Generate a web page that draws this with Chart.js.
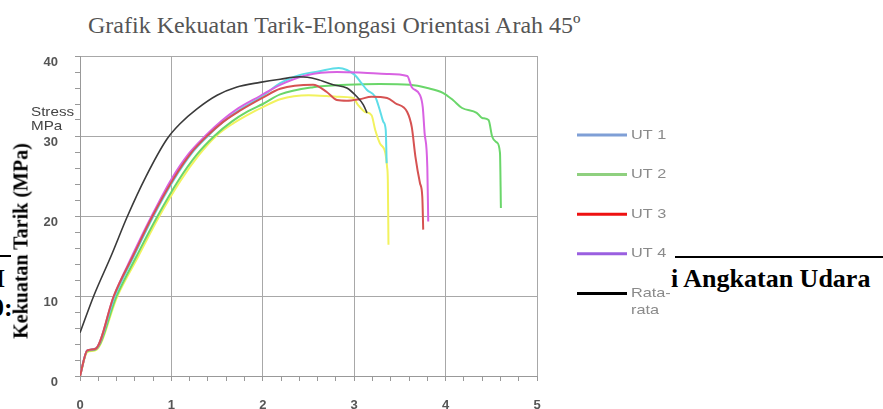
<!DOCTYPE html>
<html>
<head>
<meta charset="utf-8">
<script src="https://cdn.jsdelivr.net/npm/chart.js@4.4.1/dist/chart.umd.min.js"></script>
<style>
body { margin: 0; background: #fff; }
#wrap { position: relative; width: 883px; height: 409px; overflow: hidden; background: #fff; }
#c { position: absolute; left: 0; top: 0; }
.t { position: absolute; white-space: nowrap; }
</style>
</head>
<body>
<div id="wrap">
  <div class="t" style="left:0;top:255px;width:11px;height:2px;background:#000"></div>
  <div class="t" style="left:675px;top:256px;width:208px;height:2px;background:#000"></div>
  <div class="t" style="left:-5px;top:264px;font:bold 26px 'Liberation Serif';color:#000">I</div>
  <div class="t" style="left:-9px;top:293px;font:bold 26px 'Liberation Serif';color:#000">0:</div>
  <div class="t" style="left:671px;top:264px;font:bold 26px 'Liberation Serif';color:#000">i Angkatan Udara</div>
  <div class="t" style="left:88px;top:12px;font:24px 'Liberation Serif';color:#555">Grafik Kekuatan Tarik-Elongasi Orientasi Arah 45º</div>
  <canvas id="c" width="883" height="409"></canvas>
  <div class="t" style="left:21px;top:241px;transform:translate(-50%,-50%) rotate(-90deg);font:bold 20px 'Liberation Serif';color:#000">Kekuatan Tarik (MPa)</div>
</div>
<script>
// elongasi (%) and stress (MPa)
const xUT1 = [0, 0.08, 0.17, 0.38, 0.59, 0.8, 1.03, 1.22, 1.40, 1.58, 1.75, 2.0, 2.19, 2.4, 2.62, 2.83, 2.92, 3.01, 3.08, 3.14, 3.23, 3.28, 3.32, 3.345, 3.355];
const yUT1 = [0, 3.2, 3.4, 10, 15, 19.9, 24.6, 27.8, 30, 31.9, 33.3, 35, 36.6, 37.6, 38.1, 38.5, 38.25, 37.6, 36.6, 35.75, 34.9, 33.25, 31.75, 30.75, 26.6];

const xUT2 = [0, 0.08, 0.17, 0.4, 0.62, 0.84, 1.08, 1.28, 1.47, 1.66, 1.84, 2.0, 2.19, 2.55, 2.92, 3.28, 3.61, 3.8, 3.97, 4.08, 4.18, 4.34, 4.4, 4.47, 4.51, 4.56, 4.595, 4.605];
const yUT2 = [0, 3.1, 3.3, 10, 15, 19.8, 24.5, 27.7, 30, 31.8, 33.1, 34, 35.2, 36.1, 36.4, 36.5, 36.4, 36, 35.4, 34.5, 33.5, 32.9, 32.25, 32, 29.9, 29.2, 27.9, 21];

const xUT3 = [0, 0.08, 0.17, 0.37, 0.58, 0.79, 1.02, 1.21, 1.39, 1.57, 1.74, 2.0, 2.19, 2.55, 2.7, 2.81, 2.92, 3.06, 3.19, 3.36, 3.45, 3.58, 3.63, 3.67, 3.72, 3.745, 3.755];
const yUT3 = [0, 3.2, 3.4, 10, 15, 19.9, 24.6, 27.8, 30, 31.8, 33.1, 34.8, 35.9, 36.4, 35.5, 34.5, 34.4, 34.6, 34.9, 34.75, 34.1, 33, 31.1, 27.4, 24.1, 22.4, 18.3];

const xUT4 = [0, 0.08, 0.17, 0.37, 0.57, 0.78, 1.0, 1.19, 1.37, 1.55, 1.71, 1.97, 2.19, 2.48, 2.81, 3.1, 3.36, 3.58, 3.63, 3.72, 3.75, 3.77, 3.8, 3.81];
const yUT4 = [0, 3.2, 3.4, 10, 15, 19.9, 24.6, 27.8, 30, 31.9, 33.3, 35, 36.4, 37.6, 38, 37.9, 37.75, 37.5, 36.1, 35.1, 33.6, 30.4, 26.1, 19.3];

const xUT5 = [0, 0.08, 0.17, 0.41, 0.64, 0.86, 1.1, 1.3, 1.49, 1.68, 1.86, 2.0, 2.19, 2.5, 2.7, 2.81, 2.99, 3.04, 3.12, 3.19, 3.23, 3.28, 3.34, 3.36, 3.368, 3.375];
const yUT5 = [0, 3.0, 3.2, 10, 15, 19.8, 24.4, 27.6, 30, 31.6, 32.8, 33.6, 34.6, 35.1, 35, 34.9, 34.75, 33.9, 33, 32.6, 30.75, 29.1, 27.9, 26.1, 24.5, 16.4];

const xRata = [0, 0.15, 0.34, 0.52, 0.72, 0.95, 1.1, 1.28, 1.5, 1.71, 1.97, 2.19, 2.4, 2.59, 2.77, 2.92, 3.03, 3.1, 3.14];
const yRata = [5.4, 10, 15, 20, 24.9, 29.6, 31.6, 33.4, 35.1, 36.1, 36.7, 37.1, 37.4, 37.1, 36.4, 36, 34.9, 33.9, 32.9];

const legendLabels = ['UT 1', 'UT 2', 'UT 3', 'UT 4', 'Rata-\nrata'];
const legendColors = ['#7f9fd6', '#8fd07f', '#ee1111', '#9a5fe0', '#000000'];

function pts(xs, ys) {
    return xs.map((x, i) => ({ x: x, y: ys[i] }));
}

function isInt(v) {
    return Math.abs(v - Math.round(v)) < 1e-6;
}

function isTen(v) {
    return Math.abs(v / 10 - Math.round(v / 10)) < 1e-6;
}

Chart.defaults.font.family = "'Liberation Sans', Arial, sans-serif";

// legend and the "Stress MPa" note sit beside the plot, drawn a bit wide like the source image
const sideLegend = {
    id: 'sideLegend',
    afterDraw(chart) {
        const ctx = chart.ctx;
        ctx.save();
        ctx.textBaseline = 'middle';
        for (let i = 0; i < legendLabels.length; i++) {
            let y = 135 + i * 39.6;
            ctx.strokeStyle = legendColors[i];
            ctx.lineWidth = 3;
            ctx.beginPath();
            ctx.moveTo(577, y);
            ctx.lineTo(627, y);
            ctx.stroke();
            ctx.fillStyle = '#8a8a8a';
            ctx.font = "13px 'Liberation Sans'";
            let lines = legendLabels[i].split('\n');
            for (let j = 0; j < lines.length; j++) {
                ctx.save();
                ctx.translate(631, y + j * 17.5);
                ctx.scale(1.25, 1);
                ctx.fillText(lines[j], 0, 0);
                ctx.restore();
            }
        }
        ctx.fillStyle = '#444';
        ctx.font = "13px 'Liberation Sans'";
        ctx.save();
        ctx.translate(31, 112);
        ctx.scale(1.17, 1);
        ctx.fillText('Stress', 0, 0);
        ctx.fillText('MPa', 0, 14);
        ctx.restore();
        ctx.restore();
    }
};

new Chart(document.getElementById('c'), {
    type: 'line',
    data: {
        datasets: [
            { label: 'Rata-rata', data: pts(xRata, yRata), borderColor: '#3a3a3a', borderWidth: 1.6 },
            { label: 'UT 3', data: pts(xUT3, yUT3), borderColor: '#d65252' },
            { label: 'UT 4', data: pts(xUT4, yUT4), borderColor: '#d862e2' },
            { label: 'UT 1', data: pts(xUT1, yUT1), borderColor: '#5edde8' },
            { label: 'UT 2', data: pts(xUT2, yUT2), borderColor: '#6ad66a' },
            { label: 'UT 5', data: pts(xUT5, yUT5), borderColor: '#f2f25e' }
        ]
    },
    options: {
        responsive: false,
        animation: false,
        layout: { padding: { top: 56, right: 346, bottom: 0, left: 0 } },
        elements: {
            point: { radius: 0 },
            line: { cubicInterpolationMode: 'monotone', borderWidth: 2, fill: false }
        },
        plugins: {
            legend: { display: false },
            tooltip: { enabled: false }
        },
        scales: {
            x: {
                type: 'linear',
                min: 0,
                max: 5,
                ticks: {
                    stepSize: 0.2,
                    autoSkip: false,
                    maxRotation: 0,
                    padding: 17,
                    color: '#555',
                    font: { size: 13, weight: 'bold' },
                    callback: v => isInt(v) ? String(Math.round(v)) : ''
                },
                grid: {
                    color: c => isInt(c.tick.value) ? '#a8a8a8' : 'rgba(0,0,0,0)',
                    tickColor: '#999',
                    tickLength: 5
                },
                border: { color: '#999' },
                afterFit: s => { s.height = 33; }
            },
            y: {
                min: 0,
                max: 40,
                ticks: {
                    stepSize: 2,
                    autoSkip: false,
                    padding: 17,
                    labelOffset: 6,
                    color: '#555',
                    font: { size: 13, weight: 'bold' },
                    callback: v => isTen(v) ? String(Math.round(v)) : ''
                },
                grid: {
                    color: c => isTen(c.tick.value) ? '#a8a8a8' : 'rgba(0,0,0,0)',
                    tickColor: '#999',
                    tickLength: 5
                },
                border: { color: '#999' },
                afterFit: s => { s.width = 80; }
            }
        }
    },
    plugins: [sideLegend]
});
</script>
</body>
</html>
